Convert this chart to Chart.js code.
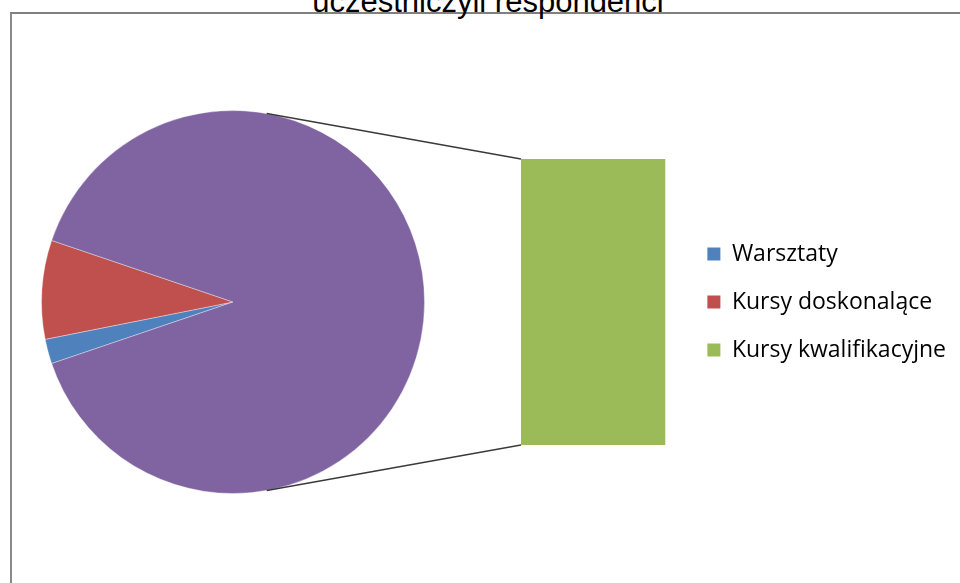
<!DOCTYPE html>
<html>
<head>
<meta charset="utf-8">
<script src="https://cdn.jsdelivr.net/npm/chart.js@4"></script>
<style>
  html, body { margin: 0; padding: 0; background: #ffffff; }
  #wrap { position: relative; width: 960px; height: 583px; overflow: hidden; background: #ffffff; }
  #frame { position: absolute; left: 10px; top: 12px; width: 2000px; height: 2000px;
           border-left: 2px solid #8a8a8a; border-top: 2px solid #808080; box-sizing: border-box; }
  #title { position: absolute; left: 0; top: -14px; width: 976px; text-align: center;
           font-family: "Liberation Sans", Arial, sans-serif; font-size: 31px; line-height: 31px; color: #000; white-space: nowrap; }
  #pie { position: absolute; left: 0; top: 0; }
  #bar { position: absolute; left: 521px; top: 100px; }
</style>
</head>
<body>
<div id="wrap">
  <div id="frame"></div>
  <div id="title"></div>
  <canvas id="pie" width="530" height="583"></canvas>
  <canvas id="bar" width="435" height="404"></canvas>
</div>
<script>
// ---- data ----
const titleText = 'uczestniczyli respondenci';
const categories = ['Warsztaty', 'Kursy doskonalące', 'Kursy kwalifikacyjne'];
const pieLabels = ['Warsztaty', 'Kursy doskonalące', 'Inne'];
const pieValues = [1, 4, 43];
const barLabels = ['Kursy kwalifikacyjne'];
const barValues = [43];

// ---- styles ----
const legendColors = ['#4F81BD', '#C0504D', '#9BBB59'];
const pieColors = ['#4F81BD', '#C0504D', '#8064A2'];
const barColor = '#9BBB59';

document.getElementById('title').textContent = titleText;

const pieCanvas = document.getElementById('pie');
const barCanvas = document.getElementById('bar');

const barChart = new Chart(barCanvas, {
  type: 'bar',
  data: {
    labels: barLabels,
    datasets: [{
      label: barLabels[0],
      data: barValues,
      backgroundColor: barColor,
      borderWidth: 0,
      barPercentage: 1,
      categoryPercentage: 1
    }]
  },
  options: {
    responsive: false,
    animation: false,
    events: [],
    layout: { padding: { left: 0, right: 0, top: 59, bottom: 59 } },
    scales: {
      x: { display: false },
      y: {
        position: 'right',
        min: 0,
        max: barValues.reduce((a, b) => a + b, 0),
        display: true,
        ticks: { display: false },
        grid: { display: false, drawTicks: false },
        border: { display: false },
        afterFit: (s) => { s.width = 17; }
      }
    },
    plugins: {
      tooltip: { enabled: false },
      legend: {
        position: 'right',
        align: 'center',
        maxWidth: 400,
        onClick: null,
        labels: {
          boxWidth: 13,
          boxHeight: 13,
          padding: 25,
          color: '#454545',
          font: { family: 'Open Sans', size: 23 },
          generateLabels: () => categories.map((t, i) => ({
            text: t,
            fillStyle: legendColors[i],
            strokeStyle: legendColors[i],
            lineWidth: 0,
            hidden: false,
            index: i,
            datasetIndex: 0
          }))
        }
      }
    }
  }
});

const connectorPlugin = {
  id: 'connectors',
  afterDatasetsDraw(chart) {
    const arc = chart.getDatasetMeta(0).data[0];
    if (!arc) return;
    const a = arc.getProps(['x', 'y', 'outerRadius'], true);
    const bar = barChart.getDatasetMeta(0).data[0];
    const b = bar.getProps(['x', 'y', 'base', 'width'], true);
    const offX = barCanvas.offsetLeft - pieCanvas.offsetLeft;
    const offY = barCanvas.offsetTop - pieCanvas.offsetTop;
    const left = b.x - b.width / 2 + offX;
    const pts = [[left, Math.min(b.y, b.base) + offY, -1], [left, Math.max(b.y, b.base) + offY, 1]];
    const ctx = chart.ctx;
    ctx.save();
    ctx.strokeStyle = '#3a3a3a';
    ctx.lineWidth = 1.3;
    pts.forEach(([px, py, sgn]) => {
      const dx = px - a.x, dy = py - a.y;
      const d = Math.sqrt(dx * dx + dy * dy);
      const phi = Math.atan2(dy, dx);
      const alpha = Math.acos(Math.min(1, a.outerRadius / d));
      const ang = phi + sgn * alpha;
      ctx.beginPath();
      ctx.moveTo(a.x + a.outerRadius * Math.cos(ang), a.y + a.outerRadius * Math.sin(ang));
      ctx.lineTo(px, py);
      ctx.stroke();
    });
    ctx.restore();
  }
};

const pieChart = new Chart(pieCanvas, {
  type: 'pie',
  data: {
    labels: pieLabels,
    datasets: [{
      data: pieValues,
      backgroundColor: pieColors,
      borderColor: 'rgba(255,255,255,0.35)',
      borderWidth: 1,
      hoverOffset: 0
    }]
  },
  options: {
    responsive: false,
    animation: false,
    events: [],
    rotation: 251.25,
    layout: { padding: { left: 41, top: 110, right: 105, bottom: 89 } },
    plugins: {
      legend: { display: false },
      tooltip: { enabled: false },
      title: { display: false }
    }
  },
  plugins: [connectorPlugin]
});
</script>
</body>
</html>
